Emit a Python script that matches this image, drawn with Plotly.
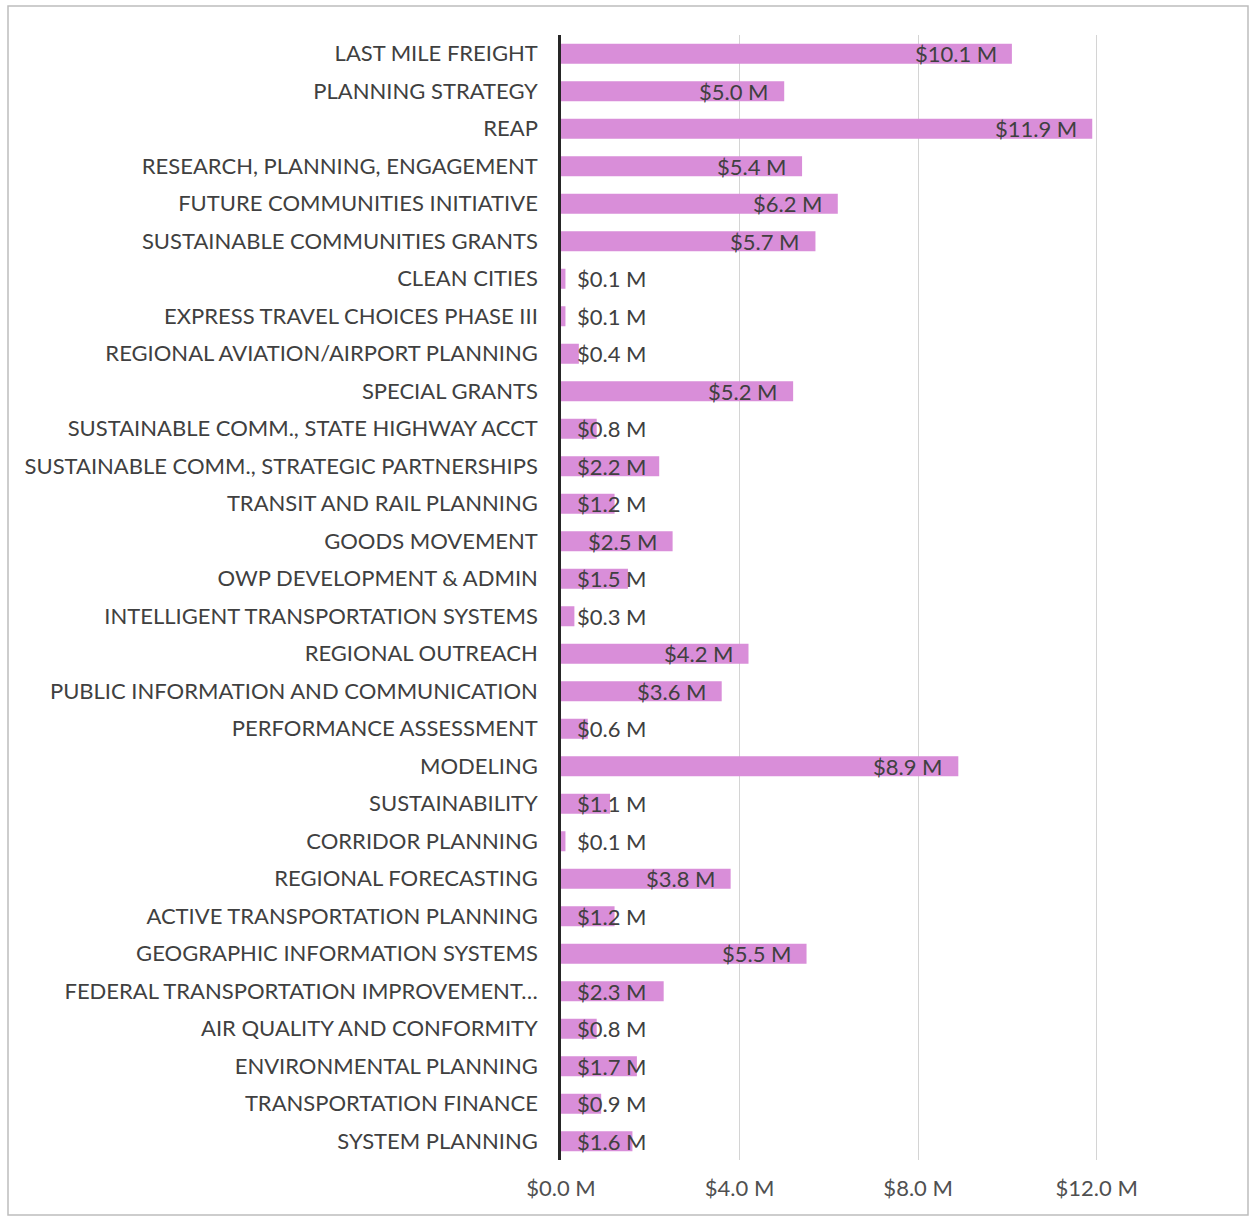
import plotly.graph_objects as go

categories = [
    "LAST MILE FREIGHT",
    "PLANNING STRATEGY",
    "REAP",
    "RESEARCH, PLANNING, ENGAGEMENT",
    "FUTURE COMMUNITIES INITIATIVE",
    "SUSTAINABLE COMMUNITIES GRANTS",
    "CLEAN CITIES",
    "EXPRESS TRAVEL CHOICES PHASE III",
    "REGIONAL AVIATION/AIRPORT PLANNING",
    "SPECIAL GRANTS",
    "SUSTAINABLE COMM., STATE HIGHWAY ACCT",
    "SUSTAINABLE COMM., STRATEGIC PARTNERSHIPS",
    "TRANSIT AND RAIL PLANNING",
    "GOODS MOVEMENT",
    "OWP DEVELOPMENT & ADMIN",
    "INTELLIGENT TRANSPORTATION SYSTEMS",
    "REGIONAL OUTREACH",
    "PUBLIC INFORMATION AND COMMUNICATION",
    "PERFORMANCE ASSESSMENT",
    "MODELING",
    "SUSTAINABILITY",
    "CORRIDOR PLANNING",
    "REGIONAL FORECASTING",
    "ACTIVE TRANSPORTATION PLANNING",
    "GEOGRAPHIC INFORMATION SYSTEMS",
    "FEDERAL TRANSPORTATION IMPROVEMENT\u2026",
    "AIR QUALITY AND CONFORMITY",
    "ENVIRONMENTAL PLANNING",
    "TRANSPORTATION FINANCE",
    "SYSTEM PLANNING",
]

budget_millions = [
    10.1, 5.0, 11.9, 5.4, 6.2, 5.7, 0.1, 0.1, 0.4, 5.2,
    0.8, 2.2, 1.2, 2.5, 1.5, 0.3, 4.2, 3.6, 0.6, 8.9,
    1.1, 0.1, 3.8, 1.2, 5.5, 2.3, 0.8, 1.7, 0.9, 1.6,
]

tick_values = [0, 4, 8, 12]
tick_labels = ["$0.0 M", "$4.0 M", "$8.0 M", "$12.0 M"]

FONT = "Lato"
FONT_SIZE = 22
TEXT_COLOR = "#404040"
BAR_COLOR = "rgb(217,142,217)"

W, H = 1252, 1218
M_L, M_R, M_T, M_B = 561, 66, 35, 58
X_MAX = 14.0

fig = go.Figure()
fig.add_trace(go.Bar(
    x=budget_millions,
    y=categories,
    orientation="h",
    marker=dict(color=BAR_COLOR, line=dict(width=0)),
    hoverinfo="x+y",
))

# Value labels: sit inside the bar end when they fit, otherwise start near the base
px_per_unit = (W - M_L - M_R) / X_MAX
annotations = []
for cat, v in zip(categories, budget_millions):
    label = f"${v:.1f} M"
    label_w = 13 * len(label)
    if v * px_per_unit - 15 - label_w >= 17:
        annotations.append(dict(x=v, y=cat, xref="x", yref="y", text=label,
                                showarrow=False, xanchor="right", xshift=-13,
                                font=dict(family=FONT, size=FONT_SIZE, color=TEXT_COLOR)))
    else:
        annotations.append(dict(x=0, y=cat, xref="x", yref="y", text=label,
                                showarrow=False, xanchor="left", xshift=14,
                                font=dict(family=FONT, size=FONT_SIZE, color=TEXT_COLOR)))

# Outer frame around the whole chart
pw = W - M_L - M_R
ph = H - M_T - M_B
def px_x(p):
    return (p - M_L) / pw
def px_y(p):
    return (H - M_B - p) / ph

fig.update_layout(
    width=W, height=H,
    margin=dict(l=M_L, r=M_R, t=M_T, b=M_B),
    paper_bgcolor="white",
    plot_bgcolor="white",
    showlegend=False,
    bargap=0.466,
    font=dict(family=FONT, size=FONT_SIZE, color=TEXT_COLOR),
    annotations=annotations,
    shapes=[dict(type="rect", xref="paper", yref="paper",
                 x0=px_x(8), x1=px_x(1248), y0=px_y(1215), y1=px_y(6),
                 line=dict(color="#bdbdbd", width=1.5), fillcolor="rgba(0,0,0,0)",
                 layer="below")],
    xaxis=dict(
        range=[0, X_MAX],
        tickvals=tick_values,
        ticktext=tick_labels,
        showgrid=True,
        gridcolor="#d4d4d4",
        gridwidth=1.2,
        zeroline=False,
        showline=False,
        ticks="",
        ticklabelstandoff=13,
        tickfont=dict(family=FONT, size=FONT_SIZE, color="#505050"),
        fixedrange=True,
    ),
    yaxis=dict(
        categoryorder="array",
        categoryarray=categories,
        autorange="reversed",
        showgrid=False,
        zeroline=False,
        showline=True,
        linecolor="#262626",
        linewidth=2.5,
        ticks="",
        ticklabelstandoff=16,
        tickfont=dict(family=FONT, size=FONT_SIZE, color=TEXT_COLOR),
        fixedrange=True,
    ),
)

fig.write_html("out.html")
